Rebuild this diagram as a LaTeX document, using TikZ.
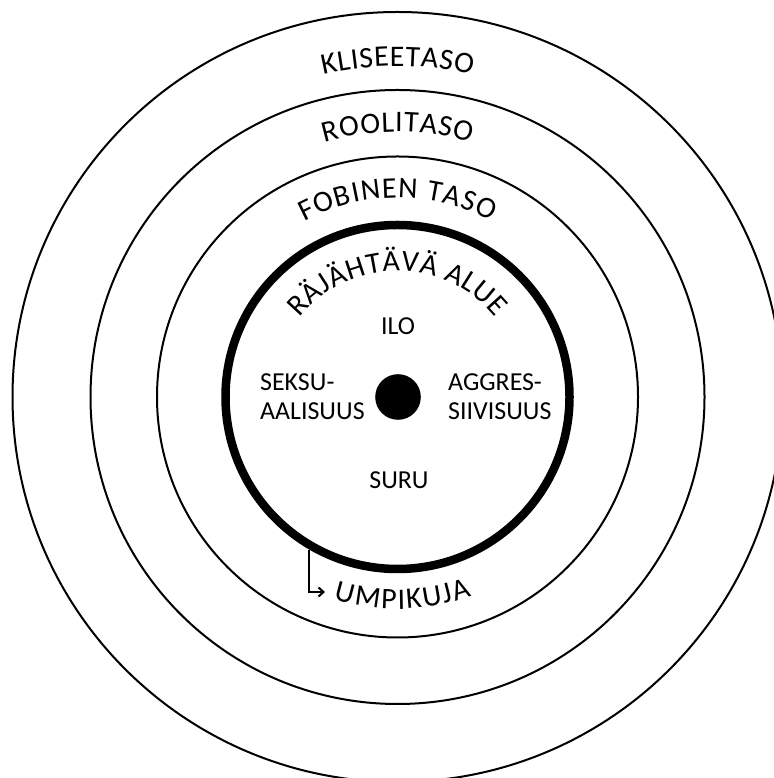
\documentclass[tikz,border=0pt]{standalone}
\usepackage{fontspec}
\setmainfont{Carlito}
\usetikzlibrary{decorations.text,arrows.meta,calc}
\begin{document}
\begin{tikzpicture}[x=1bp,y=1bp,
  ring/.style={draw=black, line width=2bp},
  corering/.style={circle, draw=black, line width=8.5bp, minimum size=344bp, inner sep=0pt},
  lbl/.style={font=\fontsize{26}{30}\selectfont, inner sep=0pt, align=left},
  arctext/.style={decorate, decoration={text along path, text={|\fontsize{30}{34}\selectfont|#1}, text align={fit to path}}}
]
\useasboundingbox (0,0) rectangle (774,778);
\clip (0,0) rectangle (774,778);
\coordinate (c) at (397.5,381);
\draw[ring] (c) circle[radius=385];
\draw[ring] (c) circle[radius=307];
\draw[ring] (c) circle[radius=240.5];
\node[corering] (core) at (c) {};
\node[circle, fill=black, minimum size=45.6bp, inner sep=0pt] (dot) at (398,381) {};

\path[arctext=KLISEETASO] ($(c)+(103:331)$) arc[start angle=103, end angle=77, radius=331];
\path[arctext=ROOLITASO] ($(c)+(106:265)$) arc[start angle=106, end angle=74, radius=265];
\path[arctext=FOBINEN TASO] ($(c)+(118:199)$) arc[start angle=118, end angle=62, radius=199];
\path[arctext=RÄJÄHTÄVÄ ALUE] ($(c)+(141:126)$) arc[start angle=141, end angle=39, radius=126];
\path[arctext=UMPIKUJA] ($(c)+(252.5:212)$) arc[start angle=252.5, end angle=290.5, radius=212];

\node[lbl] (ilo) at (398,451.5) {ILO};
\node[lbl] (suru) at (399,297.5) {SURU};
\node[lbl, anchor=north west] (seks) at (260,405) {SEKSU-\\AALISUUS};
\node[lbl, anchor=north west] (aggr) at (448,405) {AGGRES-\\SIIVISUUS};

\coordinate (tip) at (325,186);
\draw[line width=2bp, -{Straight Barb[length=5bp,width=9bp]}] (core.240) |- (tip);
\end{tikzpicture}
\end{document}
